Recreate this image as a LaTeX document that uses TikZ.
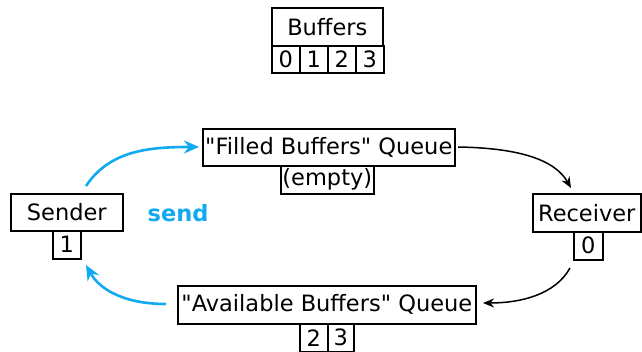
\documentclass[tikz,border=0pt]{standalone}
\usepackage{fontspec}
\setmainfont{DejaVu Sans}[Ligatures=TeXOff]
\usetikzlibrary{arrows.meta}
\definecolor{sendblue}{RGB}{17,170,240}
\begin{document}
\begin{tikzpicture}[x=1pt,y=-1pt,
  box/.style={draw, line width=1.6pt, inner sep=0pt, anchor=north west,
    font=\fontsize{22.5}{23}\selectfont},
  cell/.style={box, minimum width=28pt, minimum height=27pt},
  flow/.style={line width=1.5pt, -{Stealth[length=11pt,width=9pt]}},
  sendflow/.style={line width=2.6pt, sendblue, -{Stealth[length=15pt,width=13pt]}},
]
\useasboundingbox (0,0) rectangle (642,352);

% pool of buffers
\node[box, minimum width=111pt, minimum height=38pt] (buf) at (271,7) {Buffers};
\node[cell] (b0) at (271,45) {0};
\node[cell] (b1) at (299,45) {1};
\node[cell] (b2) at (327,45) {2};
\node[cell] (b3) at (355,45) {3};

% queues
\node[box, minimum width=252pt, minimum height=37pt] (filled) at (202,128) {"Filled Buffers" Queue};
\node[box, minimum width=93pt, minimum height=28pt] (empty) at (280,165) {(empty)};

\node[box, minimum width=298pt, minimum height=38pt] (avail) at (177,285) {"Available Buffers" Queue};
\node[cell, minimum height=28pt] (a2) at (299,323) {2};
\node[cell, minimum height=28pt, minimum width=26pt] (a3) at (327,323) {3};

% endpoints
\node[box, minimum width=112pt, minimum height=37pt] (sender) at (10,193) {Sender};
\node[cell, minimum height=28pt] (s1) at (52,230) {1};

\node[box, minimum width=108pt, minimum height=38pt] (receiver) at (532,193) {Receiver};
\node[cell, minimum width=29pt, minimum height=28pt] (r0) at (573,231) {0};

\node[font=\fontsize{22.5}{23}\selectfont\bfseries, text=sendblue] (send) at (178,213) {send};

% connector ends
\coordinate (sendOut) at (86,186);
\coordinate (filledIn) at (199,147);
\coordinate (filledOut) at (458,147);
\coordinate (recvIn) at (571,188);
\coordinate (recvOut) at (570,268);
\coordinate (availIn) at (483,303);
\coordinate (availOut) at (166,304);
\coordinate (sendIn) at (86,265);

\draw[sendflow] (sendOut) .. controls (110,150) and (150,147) .. (filledIn);
\draw[flow] (filledOut) .. controls (520,148) and (555,160) .. (recvIn);
\draw[flow] (recvOut) .. controls (555,295) and (520,303) .. (availIn);
\draw[sendflow] (availOut) .. controls (125,304) and (100,290) .. (sendIn);
\end{tikzpicture}
\end{document}
